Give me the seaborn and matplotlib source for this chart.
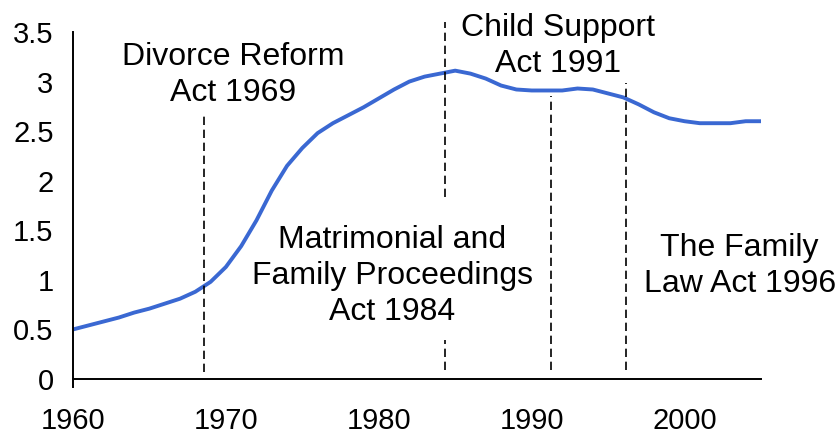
import matplotlib
matplotlib.use("Agg")
import matplotlib.pyplot as plt
import seaborn as sns
import pandas as pd

years = list(range(1960, 2006))
rate = [0.50, 0.54, 0.58, 0.62, 0.67, 0.71, 0.76, 0.81, 0.88, 0.98,
        1.13, 1.34, 1.60, 1.90, 2.15, 2.33, 2.48, 2.58, 2.66, 2.74,
        2.83, 2.92, 3.00, 3.05, 3.08, 3.11, 3.08, 3.03, 2.96, 2.92,
        2.91, 2.91, 2.91, 2.93, 2.92, 2.88, 2.84, 2.77, 2.69, 2.63,
        2.60, 2.58, 2.58, 2.58, 2.60, 2.60]

# dashed marker lines: x position, y segments
act_x = [1968.55, 1984.35, 1991.25, 1996.2]
act_segments = [[(0.07, 2.68)],
                [(0.09, 0.39), (1.84, 3.60)],
                [(0.09, 2.85)],
                [(0.09, 2.99)]]
act_labels = ["Divorce Reform\nAct 1969",
              "Matrimonial and\nFamily Proceedings\nAct 1984",
              "Child Support\nAct 1991",
              "The Family\nLaw Act 1996"]
label_pos = [(1970.45, 3.07), (1980.9, 1.04), (1991.75, 3.36), (2003.6, 1.14)]

x_ticks = [1960, 1970, 1980, 1990, 2000]
y_ticks = [0, 0.5, 1, 1.5, 2, 2.5, 3, 3.5]
y_tick_labels = ["0", "0.5", "1", "1.5", "2", "2.5", "3", "3.5"]

sns.set_theme(style="white")
plt.rcParams['font.family'] = ['Liberation Sans', 'DejaVu Sans']

df = pd.DataFrame({"year": years, "rate": rate})

fig = plt.figure(figsize=(8.39, 4.34), dpi=100)
ax = fig.add_axes([0.087, 0.1267, 0.820, 0.7996])

sns.lineplot(data=df, x="year", y="rate", ax=ax, color="#3a68d2", linewidth=2.8)

for x, segs in zip(act_x, act_segments):
    for (y0, y1) in segs:
        ax.plot([x, x], [y0, y1], color="black", linestyle=(0, (5, 2.8)),
                linewidth=1.2, clip_on=False)

for text, (tx, ty) in zip(act_labels, label_pos):
    ax.text(tx, ty, text, ha="center", va="center", multialignment="center",
            fontsize=23, color="black", linespacing=1.26)

ax.set_xlim(1960, 2005)
ax.set_ylim(0, 3.5)
ax.set_xticks(x_ticks)
ax.set_xticklabels([str(t) for t in x_ticks])
ax.set_yticks(y_ticks)
ax.set_yticklabels(y_tick_labels)
ax.set_xlabel("")
ax.set_ylabel("")
ax.tick_params(axis="both", length=0, labelsize=21, colors="black")
ax.tick_params(axis="y", pad=14)
ax.tick_params(axis="x", pad=20)

for s in ["top", "right"]:
    ax.spines[s].set_visible(False)
for s in ["left", "bottom"]:
    ax.spines[s].set_color("black")
    ax.spines[s].set_linewidth(1.4)
ax.spines["left"].set_bounds(-0.08, 3.5)

fig.savefig("out.png", dpi=100)
